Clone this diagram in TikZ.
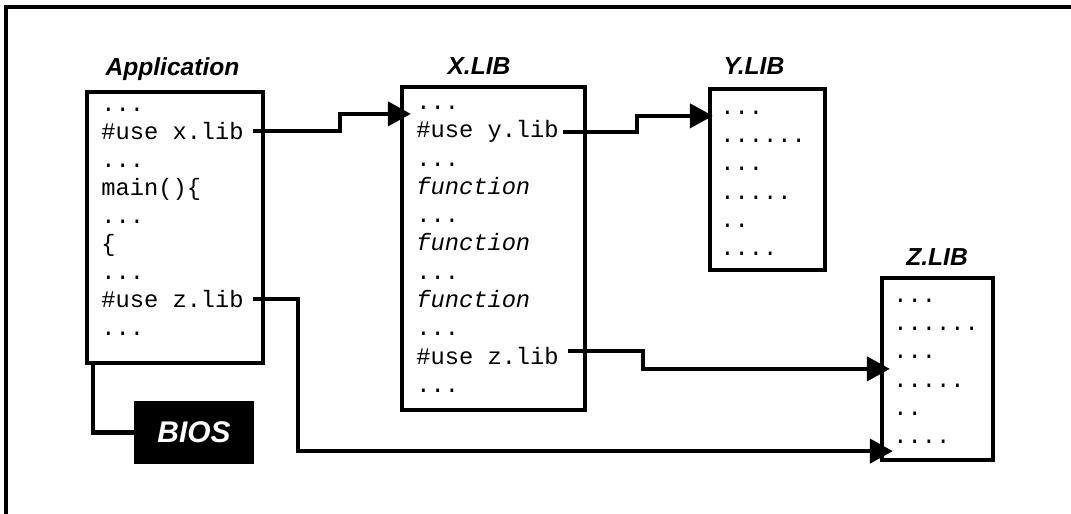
\documentclass[tikz,border=0pt]{standalone}
\usepackage{fontspec}
\setmainfont{Liberation Sans}
\setsansfont{Liberation Sans}
\setmonofont{Liberation Mono}
\usetikzlibrary{arrows.meta}

\newcommand{\codegap}{...}
\newcommand{\dotrun}[1]{\foreach \k in {1,...,#1}{.}}

\begin{document}
\begin{tikzpicture}[
		box/.style={draw, line width=2.4pt},
		code/.style={anchor=base west, inner sep=0pt, font=\ttfamily\fontsize{13.5}{16}\selectfont},
		libtitle/.style={anchor=base, font=\sffamily\bfseries\itshape\fontsize{14}{16}\selectfont},
		link/.style={line width=2.4pt},
		arrow/.style={line width=2.4pt, -{Triangle[length=0.46cm,width=0.48cm]}}
	]
		\useasboundingbox (0,0) rectangle (21.42,10.28);

		\draw[line width=2.4pt] (0.12,0) -- (0.12,10.14) -- (21.42,10.14);

		% the four boxes
		\node[box, minimum width=3.52cm, minimum height=5.42cm] (app) at (3.5,5.73) {};
		\node[box, minimum width=3.66cm, minimum height=6.46cm] (xlib) at (9.87,5.31) {};
		\node[box, minimum width=2.3cm, minimum height=3.62cm] (ylib) at (15.35,6.69) {};
		\node[box, minimum width=2.22cm, minimum height=3.64cm] (zlib) at (18.75,2.9) {};

		\node[libtitle] (app-title) at (3.45,8.76) {Application};
		\node[libtitle] (xlib-title) at (9.58,8.78) {X.LIB};
		\node[libtitle] (ylib-title) at (15.08,8.78) {Y.LIB};
		\node[libtitle] (zlib-title) at (18.74,4.97) {Z.LIB};

		\foreach \t [count=\i] in {\codegap, {\#use x.lib}, \codegap, {main()\{}, \codegap, {\{}, \codegap, {\#use z.lib}, \codegap}
			\node[code] (app\i) at (2.02, 8.61-0.56*\i) {\t};

		\foreach \t [count=\i] in {\codegap, {\#use y.lib}, \codegap, {\textit{function}}, \codegap, {\textit{function}}, \codegap, {\textit{function}}, \codegap, {\#use z.lib}, \codegap}
			\node[code] (x\i) at (8.32, 8.656-0.566*\i) {\t};

		\foreach \n [count=\i] in {3,6,3,5,2,4} {
			\node[code] (y\i) at (14.4, 8.554-0.564*\i) {\dotrun{\n}};
			\node[code] (z\i) at (17.86, 4.794-0.564*\i) {\dotrun{\n}};
		}

		\node[fill=black, text=white, minimum width=2.4cm, minimum height=1.26cm,
			font=\sffamily\bfseries\itshape\fontsize{17}{19}\selectfont] (bios) at (3.88,1.63) {BIOS};

		\draw[link] ([xshift=0.16cm]app.south west) |- (bios.west);

		\draw[arrow, shorten <=0.18cm, shorten >=-0.22cm] (app2.east) -- ++(1.92,0) |- ([yshift=-0.58cm]xlib.north west);
		\draw[arrow, shorten <=0.08cm, shorten >=-0.1cm] (x2.east) -- ++(1.56,0) |- ([yshift=-0.58cm]ylib.north west);
		\draw[arrow, shorten <=0.18cm, shorten >=-0.2cm] ([yshift=0.1cm]x10.east) -- ++(1.68,0) |- ([yshift=-1.86cm]zlib.north west);
		\draw[arrow, shorten <=0.18cm, shorten >=-0.26cm] (app8.east) -- ++(1.08,0) |- ([yshift=0.22cm]zlib.south west);

	\end{tikzpicture}
\end{document}
